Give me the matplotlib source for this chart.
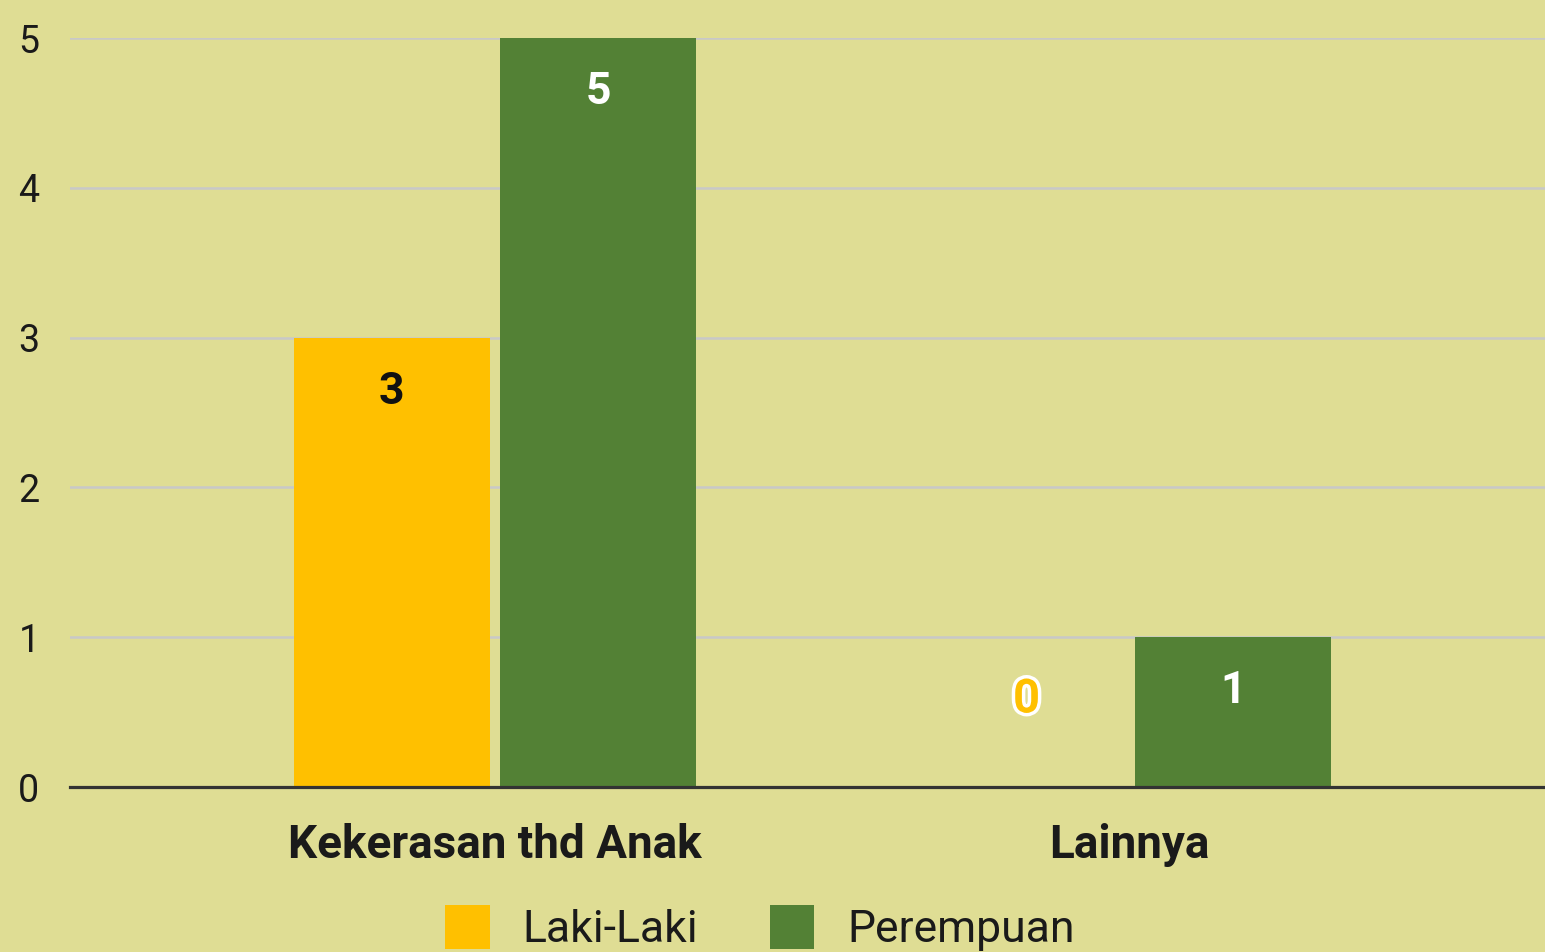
import matplotlib
matplotlib.use("Agg")
import matplotlib.pyplot as plt
import matplotlib.patheffects as pe
import numpy as np

categories = ["Kekerasan thd Anak", "Lainnya"]
series_names = ["Laki-Laki", "Perempuan"]
laki = [3, 0]
perempuan = [5, 1]
yticks = [0, 1, 2, 3, 4, 5]

BG = "#DFDD94"
YEL = "#FFC000"
GRN = "#538135"

plt.rcParams['font.family'] = ['Liberation Sans Narrow', 'Roboto', 'DejaVu Sans']

fig = plt.figure(figsize=(15.45, 9.52), dpi=100, facecolor=BG)
ax = fig.add_axes([70/1545, (952-787)/952, 1 - 70/1545, (787-38)/952])
ax.set_facecolor(BG)

x = np.arange(len(categories))
w = 0.309
gap = 0.016
b1 = ax.bar(x - (w+gap)/2, laki, w, color=YEL, label=series_names[0], zorder=3)
b2 = ax.bar(x + (w+gap)/2, perempuan, w, color=GRN, label=series_names[1], zorder=3)

ax.set_ylim(0, 5)
ax.set_xlim(-0.669, 1.654)
ax.set_yticks(yticks)
ax.set_yticklabels([str(t) for t in yticks], fontsize=27)
ax.set_xticks(x)
ax.set_xticklabels(categories, fontsize=33, fontweight='bold', color='#1a1a1a')
ax.tick_params(axis='both', length=0)
ax.tick_params(axis='y', pad=22, labelcolor='#1a1a1a')
ax.tick_params(axis='x', pad=26)
for s in ['top', 'right', 'left']:
    ax.spines[s].set_visible(False)
ax.spines['bottom'].set_color('#333333')
ax.spines['bottom'].set_linewidth(2.3)
ax.spines['bottom'].set_zorder(4)
ax.yaxis.grid(True, color='#C8C8C8', linewidth=1.8, zorder=1)
ax.set_axisbelow(True)

def label(bars, vals, color):
    for r, v in zip(bars, vals):
        cx = r.get_x() + r.get_width()/2
        if v > 0:
            t = ax.annotate(str(v), (cx, v), xytext=(0, -39), textcoords='offset points',
                            ha='center', va='center', fontsize=32, fontweight='bold', color=color, zorder=5)
        else:
            t = ax.annotate(str(v), (cx, v), xytext=(0, 63), textcoords='offset points',
                            ha='center', va='center', fontsize=34, fontweight='bold', color=YEL, zorder=5)
            t.set_path_effects([pe.withStroke(linewidth=5, foreground='white')])

label(b1, laki, '#111111')
label(b2, perempuan, 'white')

leg = fig.legend(handles=[b1, b2], labels=series_names, loc='upper left',
                 bbox_to_anchor=(445/1545, (952-905)/952), ncol=2, frameon=False,
                 fontsize=32, handlelength=1.01, handleheight=1.15, handletextpad=0.74,
                 columnspacing=1.6, borderpad=0, borderaxespad=0)
for t in leg.get_texts():
    t.set_color('#1a1a1a')

fig.savefig("out.png", dpi=100, facecolor=BG)
